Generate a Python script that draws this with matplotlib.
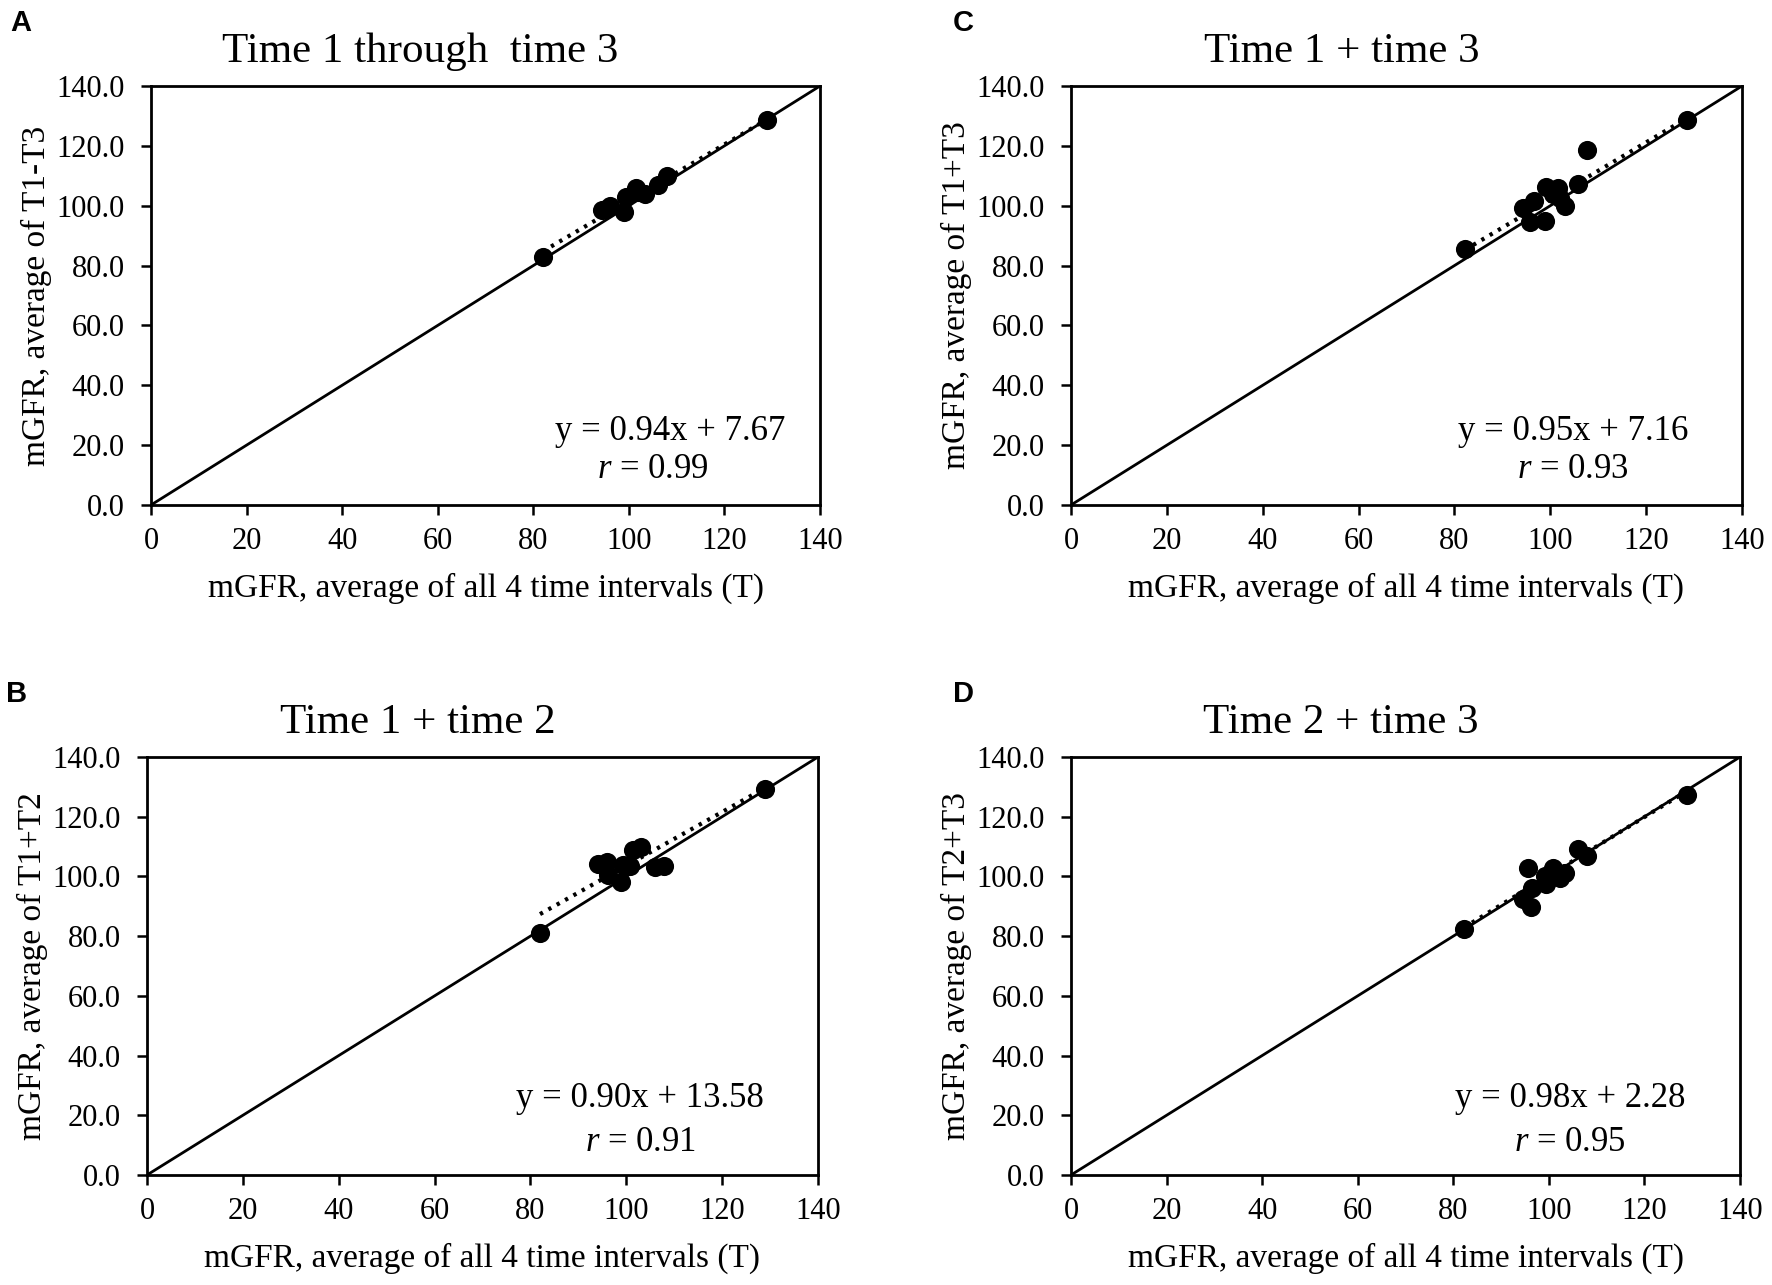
import numpy as np
import matplotlib.pyplot as plt

plt.rcParams['font.family'] = ['Liberation Serif', 'DejaVu Serif']
plt.rcParams['mathtext.fontset'] = 'custom'
plt.rcParams['mathtext.it'] = 'Liberation Serif:italic'
plt.rcParams['mathtext.rm'] = 'Liberation Serif'

# panel A: time 1 through time 3
xa = [82.0, 94.3, 95.3, 96.0, 99.0, 99.3, 101.4, 102.0, 103.3, 106.1, 107.9, 129.0]
ya = [83.0, 98.6, 99.0, 100.0, 98.0, 102.8, 105.8, 104.5, 104.0, 107.0, 110.0, 128.5]

# panel C: time 1 + time 3
xc = [82.2, 94.4, 95.8, 96.5, 98.9, 99.1, 100.6, 101.7, 102.0, 103.1, 105.8, 107.6, 128.6]
yc = [85.5, 99.3, 94.6, 101.5, 95.0, 106.3, 104.0, 106.0, 102.5, 100.0, 107.3, 118.5, 128.6]

# panel B: time 1 + time 2
xb = [82.0, 94.2, 96.0, 96.2, 99.0, 99.4, 100.7, 101.5, 103.0, 106.0, 107.9, 128.9]
yb = [80.9, 104.2, 104.8, 100.5, 98.3, 103.8, 103.5, 108.8, 109.7, 103.0, 103.5, 129.2]

# panel D: time 2 + time 3
xd = [82.2, 94.5, 95.7, 96.2, 96.4, 99.2, 99.4, 100.9, 102.3, 103.4, 106.2, 107.9, 129.0]
yd = [82.3, 92.5, 102.7, 89.8, 96.0, 100.3, 97.3, 102.7, 99.4, 101.0, 109.3, 106.8, 127.3]

letters = ['A', 'C', 'B', 'D']
titles = ['Time 1 through  time 3', 'Time 1 + time 3', 'Time 1 + time 2', 'Time 2 + time 3']
ylabels = ['mGFR, average of T1-T3', 'mGFR, average of T1+T3',
           'mGFR, average of T1+T2', 'mGFR, average of T2+T3']
slopes = [0.94, 0.95, 0.90, 0.98]
intercepts = [7.67, 7.16, 13.58, 2.28]
r_values = [0.99, 0.93, 0.91, 0.95]
xlabel = 'mGFR, average of all 4 time intervals (T)'

xs = [xa, xc, xb, xd]
ys = [ya, yc, yb, yd]

W, H = 1772, 1285
fig = plt.figure(figsize=(W / 100, H / 100), dpi=100)

# axes boxes in pixels: left, right, top, bottom
boxes = [(151, 820, 86, 505), (1071, 1742, 86, 505),
         (147, 818, 757, 1175), (1071, 1740, 757, 1175)]
eq_x = [108.6, 104.7, 102.9, 104.5]
r_x = [105.0, 104.7, 102.9, 104.5]

for i in range(4):
    l, r, t, b = boxes[i]
    ax = fig.add_axes([l / W, 1 - b / H, (r - l) / W, (b - t) / H])
    ax.plot([0, 140], [0, 140], color='black', lw=2, zorder=2)
    x = np.array(xs[i])
    y = np.array(ys[i])
    tx = np.array([x.min(), x.max()])
    ax.plot(tx, slopes[i] * tx + intercepts[i], color='black', lw=3,
            linestyle=(0, (0.8, 1.5)), zorder=3)
    ax.scatter(x, y, s=190, color='black', zorder=4, linewidths=0)
    ax.set_xlim(0, 140)
    ax.set_ylim(0, 140)
    ax.set_xticks(np.arange(0, 141, 20))
    ax.set_yticks(np.arange(0, 141, 20))
    ax.set_yticklabels(['%.1f' % v for v in np.arange(0, 141, 20)])
    ax.tick_params(direction='out', length=7, width=1.8, labelsize=22,
                   colors='black')
    ax.tick_params(axis='y', pad=12)
    ax.tick_params(axis='x', pad=9)
    for s in ax.spines.values():
        s.set_linewidth(2)
        s.set_color('black')
    ax.set_xlabel(xlabel, fontsize=24, labelpad=12)
    ax.set_ylabel(ylabels[i], fontsize=24, labelpad=3)
    eq = 'y = %.2fx + %.2f' % (slopes[i], intercepts[i])
    ax.text(eq_x[i], 24.5 if i < 2 else 25.5, eq, fontsize=25, ha='center', va='center')
    ax.text(r_x[i], 12.0 if i < 2 else 11.0, '$r$ = %.2f' % r_values[i],
            fontsize=25, ha='center', va='center')
    cx = (l + r) / 2 - 65
    fig.text(cx / W, 1 - (t - 34) / H, titles[i], fontsize=31,
             ha='center', va='center')
    fig.text((l - 141) / W if l < 500 else (l - 118) / W, 1 - (t - 63) / H,
             letters[i], fontsize=21, fontweight='bold',
             family='Liberation Sans', ha='left', va='center')

plt.savefig('out.png', dpi=100)
